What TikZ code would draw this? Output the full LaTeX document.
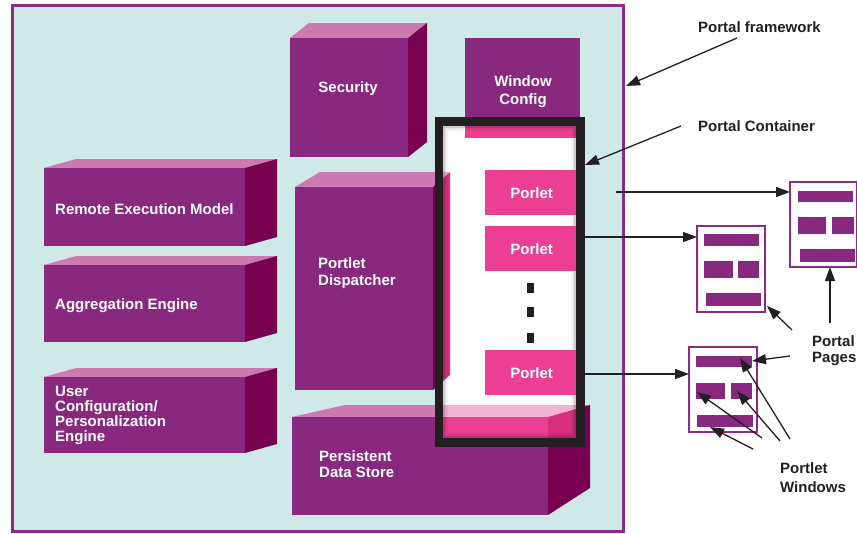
\documentclass[tikz,border=0pt]{standalone}
\usepackage{fontspec}
\setmainfont{Liberation Sans}
\usetikzlibrary{arrows.meta,calc}

\definecolor{bgcyan}{HTML}{CEE9E8}
\definecolor{fw}{HTML}{8C2A87}
\definecolor{pfront}{HTML}{89287F}
\definecolor{ptop}{HTML}{CD7AB2}
\definecolor{pside}{HTML}{77004F}
\definecolor{kfront}{HTML}{EA3F92}
\definecolor{ktop}{HTML}{F6B4D3}
\definecolor{kside}{HTML}{D92E80}
\definecolor{ink}{HTML}{231F20}

% #1 colour scheme (p or k), #2..#5 front face, #6 slant of top-left edge,
% #7 depth in x, #8 rise of the top face, #9 rise of the side bottom
\newcommand{\solidbox}[9]{%
  \fill[#1top] (#2,#3) -- ({#2+#6},{#3-#8}) -- ({#4+#7},{#3-#8}) -- (#4,#3) -- cycle;
  \fill[#1side] (#4,#3) -- ({#4+#7},{#3-#8}) -- ({#4+#7},{#5-#9}) -- (#4,#5) -- cycle;
  \fill[#1front] (#2,#3) rectangle (#4,#5);}

\tikzset{
  btxt/.style={font=\bfseries\fontsize{15}{16}\selectfont, text=white, inner sep=0pt},
  ltxt/.style={font=\bfseries\fontsize{15}{16}\selectfont, text=ink, inner sep=0pt, align=left},
  porlet/.style={fill=kfront, minimum width=93pt, minimum height=45pt, inner sep=0pt,
    anchor=north west, font=\bfseries\fontsize{15}{16}\selectfont, text=white, text depth=0pt},
  page/.style={draw=fw, line width=1.7pt, fill=white, inner sep=0pt, outer sep=0pt, anchor=north west},
  bar/.style={fill=pfront, inner sep=0pt, outer sep=0pt, anchor=north west},
  dotmark/.style={fill=ink, minimum width=7pt, minimum height=10pt, inner sep=0pt},
  arr/.style={draw=ink, line width=1.3pt, -{Triangle[length=14pt,width=10pt]}}
}

\begin{document}
\begin{tikzpicture}[x=1pt,y=-1pt]
\useasboundingbox (0,0) rectangle (857,533);

% portal framework area
\draw[fw, line width=3pt, fill=bgcyan] (12,5.7) rectangle (623,531.5);

% services on the left
\solidbox{p}{44}{168}{245}{246}{32}{32}{9}{9}
\solidbox{p}{44}{265}{245}{342}{32}{32}{9}{9}
\solidbox{p}{44}{377}{245}{453}{32}{32}{9}{9}
\node[btxt, anchor=base west] (rem) at (55,214.3) {Remote Execution Model};
\node[btxt, anchor=base west] (agg) at (55,309.3) {Aggregation Engine};
\node[btxt, anchor=north west, align=left, font=\bfseries\fontsize{15}{15}\selectfont]
  (ucfg) at (55,385.5) {User\\Configuration/\\Personalization\\Engine};

% security, dispatcher, data store, window config
\solidbox{p}{290}{38}{408}{157}{19}{19}{15}{15}
\node[btxt] (sec) at (348,89) {Security};
\solidbox{p}{295}{187}{433}{390}{25}{17}{15}{15}
\node[btxt, anchor=north west, align=left, font=\bfseries\fontsize{15}{17}\selectfont]
  (disp) at (318,257.6) {Portlet\\Dispatcher};
\solidbox{p}{292}{417}{548}{515}{53}{42}{12}{27}
\node[btxt, anchor=north west, align=left] (pds) at (319,450.6) {Persistent\\Data Store};
\fill[pfront] (465,38) rectangle (580,138);
\node[btxt, align=center, font=\bfseries\fontsize{15}{18}\selectfont] (wcfg) at (523,92) {Window\\Config};

% inside of the portal container
\begin{scope}
  \clip (443,126) rectangle (576,438);
  \fill[white] (443,126) rectangle (576,438);
  \fill[kfront] (465,38) rectangle (580,138);
  \solidbox{k}{295}{187}{433}{390}{25}{17}{15}{15}
  \solidbox{k}{292}{417}{548}{515}{53}{42}{12}{27}
  \foreach \o/\a in {1/0.20,2.5/0.11,4/0.05}
    \draw[black, opacity=\a, line width=1.5pt] ({443+\o},{126+\o}) rectangle ({576-\o},{438-\o});
\end{scope}

\node[porlet] (por1) at (485,170) {Porlet};
\node[porlet] (por2) at (485,226) {Porlet};
\node[porlet] (por3) at (485,350) {Porlet};
\node[dotmark] (d1) at (530,288) {};
\node[dotmark] (d2) at (530,312) {};
\node[dotmark] (d3) at (530,337.5) {};

% container frame
\node[draw=ink, line width=8.5pt, minimum width=141.5pt, minimum height=321pt,
      inner sep=0pt, outer sep=0pt] (container) at (509.75,282) {};

% labels on the right
\node[ltxt, anchor=base west] (pflabel) at (698,32.3) {Portal framework};
\node[ltxt, anchor=base west] (pclabel) at (698,131.3) {Portal Container};
\node[ltxt, anchor=north west, font=\bfseries\fontsize{15}{16}\selectfont] (pplabel) at (812,335.6) {Portal\\Pages};
\node[ltxt, anchor=north west, font=\bfseries\fontsize{15}{19}\selectfont] (pwlabel) at (780,462.6) {Portlet\\Windows};

% portal pages
\node[page, minimum width=67pt, minimum height=85pt] (pg1) at (790,182) {};
\node[bar, minimum width=55pt, minimum height=11pt] (pg1t) at (798,191) {};
\node[bar, minimum width=28pt, minimum height=17pt] (pg1l) at (798,217) {};
\node[bar, minimum width=22pt, minimum height=17pt] (pg1r) at (832,217) {};
\node[bar, minimum width=55pt, minimum height=13pt] (pg1b) at (800,249) {};

\node[page, minimum width=68pt, minimum height=86pt] (pg2) at (697,226) {};
\node[bar, minimum width=55pt, minimum height=12pt] (pg2t) at (704,234) {};
\node[bar, minimum width=29pt, minimum height=17pt] (pg2l) at (704,261) {};
\node[bar, minimum width=21pt, minimum height=17pt] (pg2r) at (738,261) {};
\node[bar, minimum width=55pt, minimum height=13pt] (pg2b) at (706,293) {};

\node[page, minimum width=68pt, minimum height=85pt] (pg3) at (689,347) {};
\node[bar, minimum width=56pt, minimum height=11pt] (pg3t) at (696,356) {};
\node[bar, minimum width=29pt, minimum height=16pt] (pg3l) at (696,383) {};
\node[bar, minimum width=21pt, minimum height=16pt] (pg3r) at (731,383) {};
\node[bar, minimum width=56pt, minimum height=12pt] (pg3b) at (697,415) {};

% arrow ends
\coordinate (pfTail) at (737,38);
\coordinate (pfTip) at (626,86);
\coordinate (pcTail) at (681,126);
\coordinate (pcTip) at (585,165);
\coordinate (o1) at (616,192);
\coordinate (o2) at (585,237);
\coordinate (o3) at (585,374);
\coordinate (ppA) at (830,323);
\coordinate (ppB) at (792,330);
\coordinate (ppC) at (790,356);
\coordinate (pwA) at (790,439);
\coordinate (pwB) at (780,441);
\coordinate (pwC) at (762,438);
\coordinate (pwD) at (753,449);

% connectors
\draw[arr] (pfTail) -- (pfTip);
\draw[arr] (pcTail) -- (pcTip);
\draw[arr] (o1) -- (o1 -| pg1.west);
\draw[arr] (o2) -- (o2 -| pg2.west);
\draw[arr] (o3) -- (o3 -| pg3.west);
\draw[arr] (ppA) -- (ppA |- pg1.south);
\draw[arr] (ppB) -- ($(pg2.south east)+(2,-6)$);
\draw[arr] (ppC) -- ($(pg3t.east)+(0,-0.5)$);
\draw[arr] (pwA) -- ($(pg3t.north east)+(-12,2)$);
\draw[arr] (pwB) -- ($(pg3r.north west)+(6,8)$);
\draw[arr] (pwC) -- ($(pg3l.north west)+(1,9)$);
\draw[arr] (pwD) -- ($(pg3b.south west)+(13,0)$);
\end{tikzpicture}
\end{document}
